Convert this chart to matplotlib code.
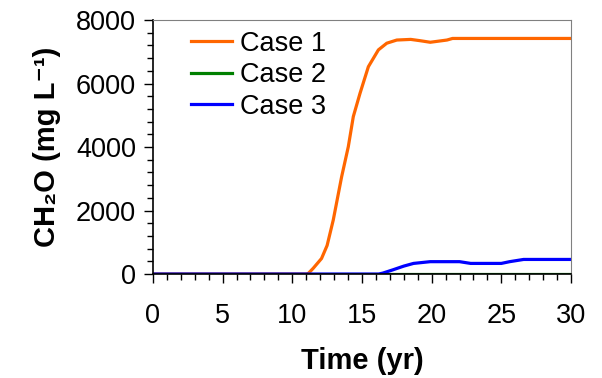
import numpy as np
import matplotlib.pyplot as plt
from matplotlib.ticker import MultipleLocator

plt.rcParams['font.family'] = ['Liberation Sans', 'DejaVu Sans']

# Case 1: orange
t1 = [0, 11.0, 11.15, 11.5, 12.1, 12.5, 12.94, 13.54, 14.02, 14.38, 14.86,
      15.46, 16.18, 16.78, 17.5, 18.5, 19.16, 19.9, 21.1, 21.5, 25, 30]
c1 = [0, 0, 20, 180, 490, 900, 1700, 3060, 4010, 4960, 5690,
      6530, 7060, 7270, 7370, 7390, 7350, 7300, 7370, 7420, 7420, 7420]

# Case 2: green (stays at zero)
t2 = [0, 30]
c2 = [0, 0]

# Case 3: blue
t3 = [0, 16.2, 16.5, 17.2, 18.0, 18.7, 19.9, 22.0, 22.8, 25.0, 25.6, 26.6, 30]
c3 = [0, 0, 30, 130, 250, 335, 390, 390, 335, 335, 390, 460, 460]

fig = plt.figure(figsize=(6.02, 3.78), dpi=100)
ax = fig.add_axes([0.254, 0.275, 0.6945, 0.672])

ax.plot(t1, c1, color='#FF6600', lw=2.3, label='Case 1')
ax.plot(t2, c2, color='#008000', lw=2.3, label='Case 2')
ax.plot(t3, c3, color='#0000FF', lw=2.3, label='Case 3')

ax.set_xlim(0, 30)
ax.set_ylim(0, 8000)
ax.xaxis.set_major_locator(MultipleLocator(5))
ax.xaxis.set_minor_locator(MultipleLocator(1))
ax.yaxis.set_major_locator(MultipleLocator(2000))
ax.yaxis.set_minor_locator(MultipleLocator(400))
ax.tick_params(which='major', length=6.5, width=1, labelsize=19.5, pad=14, direction='out')
ax.tick_params(axis='y', which='major', pad=5.5)
ax.tick_params(which='minor', length=4.3, width=1, direction='out')

for s in ['top', 'right']:
    ax.spines[s].set_color('#808080')
for s in ['left', 'bottom']:
    ax.spines[s].set_color('black')
    ax.spines[s].set_linewidth(1.2)

ax.set_xlabel('Time (yr)', fontsize=21, fontweight='bold', labelpad=13)
ax.set_ylabel('CH\u2082O (mg L\u207b\u00b9)', fontsize=21, fontweight='bold', labelpad=11)

ax.legend(loc='upper left', frameon=False, fontsize=19.5, handlelength=1.5,
          handletextpad=0.3, labelspacing=0.2, borderaxespad=0.0,
          bbox_to_anchor=(0.065, 1.0))

fig.savefig('out.png', dpi=100)
